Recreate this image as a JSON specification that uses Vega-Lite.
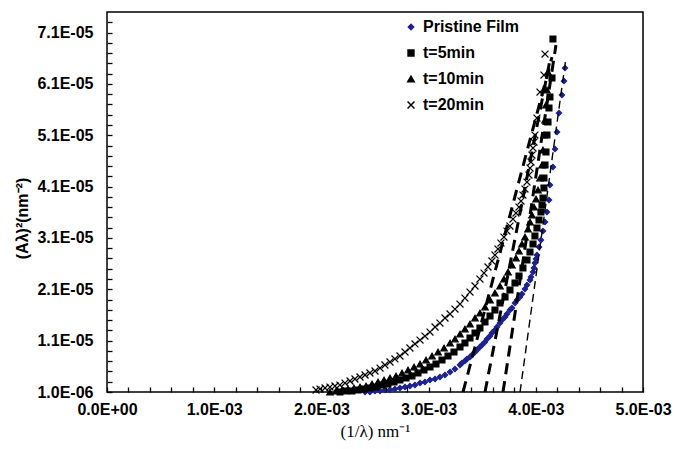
{
  "$schema": "https://vega.github.io/schema/vega-lite/v6.json",
  "width": 536,
  "height": 380,
  "autosize": {"type": "none"},
  "padding": {"left": 107, "top": 12, "right": 32, "bottom": 57},
  "background": "white",
  "config": {
    "view": {"stroke": "black", "strokeWidth": 1.5},
    "font": "Liberation Sans",
    "axis": {"ticks": true, "tickOpacity": 1}
  },
  "datasets": {
    "points": [
      {"series": "Pristine Film", "x": 2.407e-3, "y": 1.00e-6},
      {"series": "Pristine Film", "x": 2.453e-3, "y": 1.00e-6},
      {"series": "Pristine Film", "x": 2.500e-3, "y": 1.19e-6},
      {"series": "Pristine Film", "x": 2.547e-3, "y": 1.19e-6},
      {"series": "Pristine Film", "x": 2.593e-3, "y": 1.39e-6},
      {"series": "Pristine Film", "x": 2.640e-3, "y": 1.39e-6},
      {"series": "Pristine Film", "x": 2.686e-3, "y": 1.58e-6},
      {"series": "Pristine Film", "x": 2.733e-3, "y": 1.78e-6},
      {"series": "Pristine Film", "x": 2.780e-3, "y": 1.97e-6},
      {"series": "Pristine Film", "x": 2.826e-3, "y": 2.17e-6},
      {"series": "Pristine Film", "x": 2.873e-3, "y": 2.36e-6},
      {"series": "Pristine Film", "x": 2.920e-3, "y": 2.75e-6},
      {"series": "Pristine Film", "x": 2.966e-3, "y": 2.95e-6},
      {"series": "Pristine Film", "x": 3.013e-3, "y": 3.34e-6},
      {"series": "Pristine Film", "x": 3.060e-3, "y": 3.53e-6},
      {"series": "Pristine Film", "x": 3.106e-3, "y": 3.92e-6},
      {"series": "Pristine Film", "x": 3.153e-3, "y": 4.31e-6},
      {"series": "Pristine Film", "x": 3.200e-3, "y": 4.89e-6},
      {"series": "Pristine Film", "x": 3.246e-3, "y": 5.48e-6},
      {"series": "Pristine Film", "x": 3.293e-3, "y": 6.26e-6},
      {"series": "Pristine Film", "x": 3.311e-3, "y": 6.65e-6},
      {"series": "Pristine Film", "x": 3.339e-3, "y": 7.04e-6},
      {"series": "Pristine Film", "x": 3.358e-3, "y": 7.43e-6},
      {"series": "Pristine Film", "x": 3.386e-3, "y": 7.81e-6},
      {"series": "Pristine Film", "x": 3.405e-3, "y": 8.20e-6},
      {"series": "Pristine Film", "x": 3.433e-3, "y": 8.79e-6},
      {"series": "Pristine Film", "x": 3.451e-3, "y": 9.18e-6},
      {"series": "Pristine Film", "x": 3.479e-3, "y": 9.76e-6},
      {"series": "Pristine Film", "x": 3.498e-3, "y": 1.015e-5},
      {"series": "Pristine Film", "x": 3.526e-3, "y": 1.074e-5},
      {"series": "Pristine Film", "x": 3.545e-3, "y": 1.132e-5},
      {"series": "Pristine Film", "x": 3.573e-3, "y": 1.190e-5},
      {"series": "Pristine Film", "x": 3.591e-3, "y": 1.249e-5},
      {"series": "Pristine Film", "x": 3.619e-3, "y": 1.307e-5},
      {"series": "Pristine Film", "x": 3.638e-3, "y": 1.366e-5},
      {"series": "Pristine Film", "x": 3.666e-3, "y": 1.443e-5},
      {"series": "Pristine Film", "x": 3.685e-3, "y": 1.502e-5},
      {"series": "Pristine Film", "x": 3.713e-3, "y": 1.560e-5},
      {"series": "Pristine Film", "x": 3.731e-3, "y": 1.619e-5},
      {"series": "Pristine Film", "x": 3.759e-3, "y": 1.697e-5},
      {"series": "Pristine Film", "x": 3.778e-3, "y": 1.735e-5},
      {"series": "Pristine Film", "x": 3.806e-3, "y": 1.833e-5},
      {"series": "Pristine Film", "x": 3.825e-3, "y": 1.891e-5},
      {"series": "Pristine Film", "x": 3.852e-3, "y": 1.950e-5},
      {"series": "Pristine Film", "x": 3.871e-3, "y": 2.008e-5},
      {"series": "Pristine Film", "x": 3.899e-3, "y": 2.105e-5},
      {"series": "Pristine Film", "x": 3.918e-3, "y": 2.183e-5},
      {"series": "Pristine Film", "x": 3.946e-3, "y": 2.281e-5},
      {"series": "Pristine Film", "x": 3.955e-3, "y": 2.339e-5},
      {"series": "Pristine Film", "x": 3.974e-3, "y": 2.436e-5},
      {"series": "Pristine Film", "x": 3.983e-3, "y": 2.514e-5},
      {"series": "Pristine Film", "x": 3.992e-3, "y": 2.612e-5},
      {"series": "Pristine Film", "x": 4.002e-3, "y": 2.690e-5},
      {"series": "Pristine Film", "x": 4.011e-3, "y": 2.767e-5},
      {"series": "Pristine Film", "x": 4.030e-3, "y": 2.923e-5},
      {"series": "Pristine Film", "x": 4.048e-3, "y": 3.059e-5},
      {"series": "Pristine Film", "x": 4.067e-3, "y": 3.235e-5},
      {"series": "Pristine Film", "x": 4.086e-3, "y": 3.410e-5},
      {"series": "Pristine Film", "x": 4.104e-3, "y": 3.605e-5},
      {"series": "Pristine Film", "x": 4.123e-3, "y": 3.838e-5},
      {"series": "Pristine Film", "x": 4.132e-3, "y": 4.130e-5},
      {"series": "Pristine Film", "x": 4.160e-3, "y": 4.481e-5},
      {"series": "Pristine Film", "x": 4.179e-3, "y": 4.831e-5},
      {"series": "Pristine Film", "x": 4.198e-3, "y": 5.162e-5},
      {"series": "Pristine Film", "x": 4.216e-3, "y": 5.532e-5},
      {"series": "Pristine Film", "x": 4.244e-3, "y": 5.883e-5},
      {"series": "Pristine Film", "x": 4.263e-3, "y": 6.155e-5},
      {"series": "Pristine Film", "x": 4.272e-3, "y": 6.408e-5},

      {"series": "t=5min", "x": 2.173e-3, "y": 1.00e-6},
      {"series": "t=5min", "x": 2.229e-3, "y": 1.19e-6},
      {"series": "t=5min", "x": 2.285e-3, "y": 1.19e-6},
      {"series": "t=5min", "x": 2.341e-3, "y": 1.39e-6},
      {"series": "t=5min", "x": 2.397e-3, "y": 1.58e-6},
      {"series": "t=5min", "x": 2.453e-3, "y": 1.78e-6},
      {"series": "t=5min", "x": 2.509e-3, "y": 1.97e-6},
      {"series": "t=5min", "x": 2.565e-3, "y": 2.36e-6},
      {"series": "t=5min", "x": 2.621e-3, "y": 2.56e-6},
      {"series": "t=5min", "x": 2.677e-3, "y": 2.95e-6},
      {"series": "t=5min", "x": 2.733e-3, "y": 3.34e-6},
      {"series": "t=5min", "x": 2.789e-3, "y": 3.73e-6},
      {"series": "t=5min", "x": 2.845e-3, "y": 4.12e-6},
      {"series": "t=5min", "x": 2.901e-3, "y": 4.70e-6},
      {"series": "t=5min", "x": 2.957e-3, "y": 5.28e-6},
      {"series": "t=5min", "x": 3.013e-3, "y": 5.87e-6},
      {"series": "t=5min", "x": 3.069e-3, "y": 6.45e-6},
      {"series": "t=5min", "x": 3.125e-3, "y": 7.23e-6},
      {"series": "t=5min", "x": 3.181e-3, "y": 8.01e-6},
      {"series": "t=5min", "x": 3.237e-3, "y": 8.79e-6},
      {"series": "t=5min", "x": 3.293e-3, "y": 9.76e-6},
      {"series": "t=5min", "x": 3.339e-3, "y": 1.054e-5},
      {"series": "t=5min", "x": 3.386e-3, "y": 1.151e-5},
      {"series": "t=5min", "x": 3.433e-3, "y": 1.249e-5},
      {"series": "t=5min", "x": 3.479e-3, "y": 1.346e-5},
      {"series": "t=5min", "x": 3.526e-3, "y": 1.463e-5},
      {"series": "t=5min", "x": 3.573e-3, "y": 1.580e-5},
      {"series": "t=5min", "x": 3.619e-3, "y": 1.697e-5},
      {"series": "t=5min", "x": 3.666e-3, "y": 1.833e-5},
      {"series": "t=5min", "x": 3.713e-3, "y": 1.950e-5},
      {"series": "t=5min", "x": 3.759e-3, "y": 2.086e-5},
      {"series": "t=5min", "x": 3.806e-3, "y": 2.222e-5},
      {"series": "t=5min", "x": 3.843e-3, "y": 2.359e-5},
      {"series": "t=5min", "x": 3.880e-3, "y": 2.514e-5},
      {"series": "t=5min", "x": 3.918e-3, "y": 2.670e-5},
      {"series": "t=5min", "x": 3.946e-3, "y": 2.826e-5},
      {"series": "t=5min", "x": 3.974e-3, "y": 2.982e-5},
      {"series": "t=5min", "x": 3.992e-3, "y": 3.137e-5},
      {"series": "t=5min", "x": 4.011e-3, "y": 3.293e-5},
      {"series": "t=5min", "x": 4.030e-3, "y": 3.449e-5},
      {"series": "t=5min", "x": 4.048e-3, "y": 3.605e-5},
      {"series": "t=5min", "x": 4.058e-3, "y": 3.741e-5},
      {"series": "t=5min", "x": 4.067e-3, "y": 3.877e-5},
      {"series": "t=5min", "x": 4.076e-3, "y": 4.072e-5},
      {"series": "t=5min", "x": 4.076e-3, "y": 4.267e-5},
      {"series": "t=5min", "x": 4.086e-3, "y": 4.520e-5},
      {"series": "t=5min", "x": 4.095e-3, "y": 4.773e-5},
      {"series": "t=5min", "x": 4.104e-3, "y": 5.104e-5},
      {"series": "t=5min", "x": 4.114e-3, "y": 5.357e-5},
      {"series": "t=5min", "x": 4.123e-3, "y": 5.629e-5},
      {"series": "t=5min", "x": 4.132e-3, "y": 5.844e-5},
      {"series": "t=5min", "x": 4.151e-3, "y": 6.214e-5},
      {"series": "t=5min", "x": 4.160e-3, "y": 6.973e-5},

      {"series": "t=10min", "x": 2.080e-3, "y": 1.00e-6},
      {"series": "t=10min", "x": 2.136e-3, "y": 1.19e-6},
      {"series": "t=10min", "x": 2.192e-3, "y": 1.39e-6},
      {"series": "t=10min", "x": 2.248e-3, "y": 1.58e-6},
      {"series": "t=10min", "x": 2.304e-3, "y": 1.78e-6},
      {"series": "t=10min", "x": 2.360e-3, "y": 1.97e-6},
      {"series": "t=10min", "x": 2.416e-3, "y": 2.17e-6},
      {"series": "t=10min", "x": 2.472e-3, "y": 2.56e-6},
      {"series": "t=10min", "x": 2.528e-3, "y": 2.95e-6},
      {"series": "t=10min", "x": 2.584e-3, "y": 3.34e-6},
      {"series": "t=10min", "x": 2.640e-3, "y": 3.73e-6},
      {"series": "t=10min", "x": 2.696e-3, "y": 4.12e-6},
      {"series": "t=10min", "x": 2.752e-3, "y": 4.70e-6},
      {"series": "t=10min", "x": 2.808e-3, "y": 5.28e-6},
      {"series": "t=10min", "x": 2.864e-3, "y": 5.87e-6},
      {"series": "t=10min", "x": 2.920e-3, "y": 6.45e-6},
      {"series": "t=10min", "x": 2.976e-3, "y": 7.23e-6},
      {"series": "t=10min", "x": 3.032e-3, "y": 8.01e-6},
      {"series": "t=10min", "x": 3.088e-3, "y": 8.79e-6},
      {"series": "t=10min", "x": 3.144e-3, "y": 9.57e-6},
      {"series": "t=10min", "x": 3.200e-3, "y": 1.054e-5},
      {"series": "t=10min", "x": 3.246e-3, "y": 1.132e-5},
      {"series": "t=10min", "x": 3.293e-3, "y": 1.229e-5},
      {"series": "t=10min", "x": 3.339e-3, "y": 1.327e-5},
      {"series": "t=10min", "x": 3.386e-3, "y": 1.424e-5},
      {"series": "t=10min", "x": 3.433e-3, "y": 1.541e-5},
      {"series": "t=10min", "x": 3.479e-3, "y": 1.638e-5},
      {"series": "t=10min", "x": 3.526e-3, "y": 1.755e-5},
      {"series": "t=10min", "x": 3.573e-3, "y": 1.891e-5},
      {"series": "t=10min", "x": 3.619e-3, "y": 2.028e-5},
      {"series": "t=10min", "x": 3.666e-3, "y": 2.164e-5},
      {"series": "t=10min", "x": 3.703e-3, "y": 2.300e-5},
      {"series": "t=10min", "x": 3.741e-3, "y": 2.436e-5},
      {"series": "t=10min", "x": 3.778e-3, "y": 2.573e-5},
      {"series": "t=10min", "x": 3.815e-3, "y": 2.709e-5},
      {"series": "t=10min", "x": 3.843e-3, "y": 2.845e-5},
      {"series": "t=10min", "x": 3.871e-3, "y": 2.982e-5},
      {"series": "t=10min", "x": 3.899e-3, "y": 3.118e-5},
      {"series": "t=10min", "x": 3.927e-3, "y": 3.274e-5},
      {"series": "t=10min", "x": 3.946e-3, "y": 3.410e-5},
      {"series": "t=10min", "x": 3.964e-3, "y": 3.546e-5},
      {"series": "t=10min", "x": 3.983e-3, "y": 3.702e-5},
      {"series": "t=10min", "x": 4.002e-3, "y": 3.858e-5},
      {"series": "t=10min", "x": 4.020e-3, "y": 4.033e-5},
      {"series": "t=10min", "x": 4.039e-3, "y": 4.267e-5},
      {"series": "t=10min", "x": 4.058e-3, "y": 4.520e-5},
      {"series": "t=10min", "x": 4.067e-3, "y": 4.812e-5},
      {"series": "t=10min", "x": 4.076e-3, "y": 5.104e-5},
      {"series": "t=10min", "x": 4.086e-3, "y": 5.396e-5},
      {"series": "t=10min", "x": 4.095e-3, "y": 5.688e-5},
      {"series": "t=10min", "x": 4.104e-3, "y": 5.980e-5},
      {"series": "t=10min", "x": 4.114e-3, "y": 6.330e-5},

      {"series": "t=20min", "x": 1.950e-3, "y": 1.39e-6},
      {"series": "t=20min", "x": 1.987e-3, "y": 1.58e-6},
      {"series": "t=20min", "x": 2.034e-3, "y": 1.78e-6},
      {"series": "t=20min", "x": 2.080e-3, "y": 1.97e-6},
      {"series": "t=20min", "x": 2.127e-3, "y": 2.17e-6},
      {"series": "t=20min", "x": 2.173e-3, "y": 2.36e-6},
      {"series": "t=20min", "x": 2.220e-3, "y": 2.75e-6},
      {"series": "t=20min", "x": 2.267e-3, "y": 3.14e-6},
      {"series": "t=20min", "x": 2.313e-3, "y": 3.53e-6},
      {"series": "t=20min", "x": 2.360e-3, "y": 3.92e-6},
      {"series": "t=20min", "x": 2.407e-3, "y": 4.31e-6},
      {"series": "t=20min", "x": 2.453e-3, "y": 4.70e-6},
      {"series": "t=20min", "x": 2.500e-3, "y": 5.09e-6},
      {"series": "t=20min", "x": 2.547e-3, "y": 5.67e-6},
      {"series": "t=20min", "x": 2.593e-3, "y": 6.26e-6},
      {"series": "t=20min", "x": 2.640e-3, "y": 6.84e-6},
      {"series": "t=20min", "x": 2.686e-3, "y": 7.43e-6},
      {"series": "t=20min", "x": 2.733e-3, "y": 8.01e-6},
      {"series": "t=20min", "x": 2.780e-3, "y": 8.79e-6},
      {"series": "t=20min", "x": 2.826e-3, "y": 9.57e-6},
      {"series": "t=20min", "x": 2.873e-3, "y": 1.035e-5},
      {"series": "t=20min", "x": 2.920e-3, "y": 1.112e-5},
      {"series": "t=20min", "x": 2.966e-3, "y": 1.190e-5},
      {"series": "t=20min", "x": 3.013e-3, "y": 1.268e-5},
      {"series": "t=20min", "x": 3.060e-3, "y": 1.366e-5},
      {"series": "t=20min", "x": 3.106e-3, "y": 1.443e-5},
      {"series": "t=20min", "x": 3.153e-3, "y": 1.541e-5},
      {"series": "t=20min", "x": 3.200e-3, "y": 1.619e-5},
      {"series": "t=20min", "x": 3.246e-3, "y": 1.716e-5},
      {"series": "t=20min", "x": 3.293e-3, "y": 1.813e-5},
      {"series": "t=20min", "x": 3.339e-3, "y": 1.930e-5},
      {"series": "t=20min", "x": 3.386e-3, "y": 2.047e-5},
      {"series": "t=20min", "x": 3.433e-3, "y": 2.164e-5},
      {"series": "t=20min", "x": 3.479e-3, "y": 2.300e-5},
      {"series": "t=20min", "x": 3.517e-3, "y": 2.417e-5},
      {"series": "t=20min", "x": 3.554e-3, "y": 2.534e-5},
      {"series": "t=20min", "x": 3.591e-3, "y": 2.651e-5},
      {"series": "t=20min", "x": 3.619e-3, "y": 2.767e-5},
      {"series": "t=20min", "x": 3.647e-3, "y": 2.884e-5},
      {"series": "t=20min", "x": 3.675e-3, "y": 3.001e-5},
      {"series": "t=20min", "x": 3.703e-3, "y": 3.118e-5},
      {"series": "t=20min", "x": 3.731e-3, "y": 3.235e-5},
      {"series": "t=20min", "x": 3.759e-3, "y": 3.332e-5},
      {"series": "t=20min", "x": 3.787e-3, "y": 3.468e-5},
      {"series": "t=20min", "x": 3.815e-3, "y": 3.585e-5},
      {"series": "t=20min", "x": 3.843e-3, "y": 3.702e-5},
      {"series": "t=20min", "x": 3.862e-3, "y": 3.819e-5},
      {"series": "t=20min", "x": 3.880e-3, "y": 3.936e-5},
      {"series": "t=20min", "x": 3.899e-3, "y": 4.052e-5},
      {"series": "t=20min", "x": 3.918e-3, "y": 4.189e-5},
      {"series": "t=20min", "x": 3.936e-3, "y": 4.325e-5},
      {"series": "t=20min", "x": 3.946e-3, "y": 4.461e-5},
      {"series": "t=20min", "x": 3.955e-3, "y": 4.578e-5},
      {"series": "t=20min", "x": 3.964e-3, "y": 4.714e-5},
      {"series": "t=20min", "x": 3.974e-3, "y": 4.851e-5},
      {"series": "t=20min", "x": 3.983e-3, "y": 4.968e-5},
      {"series": "t=20min", "x": 3.992e-3, "y": 5.104e-5},
      {"series": "t=20min", "x": 4.011e-3, "y": 5.435e-5},
      {"series": "t=20min", "x": 4.039e-3, "y": 5.941e-5},
      {"series": "t=20min", "x": 4.076e-3, "y": 6.272e-5},
      {"series": "t=20min", "x": 4.086e-3, "y": 6.681e-5}
    ],
    "lines": [
      {"fit": "t=20min", "x": 3.321e-3, "y": 1.0e-6},
      {"fit": "t=20min", "x": 4.151e-3, "y": 6.622e-5},
      {"fit": "t=10min", "x": 3.526e-3, "y": 1.0e-6},
      {"fit": "t=10min", "x": 4.132e-3, "y": 6.564e-5},
      {"fit": "t=5min", "x": 3.694e-3, "y": 1.0e-6},
      {"fit": "t=5min", "x": 4.188e-3, "y": 6.856e-5},
      {"fit": "Pristine Film", "x": 3.853e-3, "y": 1.0e-6},
      {"fit": "Pristine Film", "x": 4.281e-3, "y": 6.603e-5}
    ]
  },
  "encoding": {
    "x": {
      "field": "x", "type": "quantitative",
      "scale": {"domain": [0, 0.005], "nice": false, "zero": false},
      "axis": {
        "title": "(1/λ) nm⁻¹",
        "titleFont": "Liberation Serif", "titleFontSize": 17, "titleFontWeight": "normal", "titleColor": "black",
        "titleY": 36, "titleBaseline": "top",
        "values": [0,0.0002,0.0004,0.0006,0.0008,0.001,0.0012,0.0014,0.0016,0.0018,0.002,0.0022,0.0024,0.0026,0.0028,0.003,0.0032,0.0034,0.0036,0.0038,0.004,0.0042,0.0044,0.0046,0.0048,0.005],
        "labelExpr": "round(datum.value*10000) % 10 == 0 ? (datum.value == 0 ? '0.0E+00' : format(datum.value*1000, '.1f') + 'E-03') : ''",
        "labelFont": "Liberation Sans", "labelFontSize": 16, "labelFontWeight": "bold", "labelColor": "black",
        "labelOverlap": false, "labelFlush": false, "labelBound": false,
        "labelPadding": 9,
        "offset": -5,
        "ticks": true,
        "tickSize": 5, "tickColor": "#000000", "tickWidth": 1.3, "tickOpacity": 1,
        "grid": false, "domain": false, "zindex": 1
      }
    },
    "y": {
      "field": "y", "type": "quantitative",
      "scale": {"domain": [1e-6, 7.5e-5], "nice": false, "zero": false},
      "axis": {
        "title": "(Aλ)²(nm⁻²)",
        "titleFont": "Liberation Sans", "titleFontSize": 16, "titleFontWeight": "bold", "titleColor": "black",
        "titleX": -90, "titleY": 206, "titleBaseline": "middle", "titleAngle": 270,
        "values": [1e-6,3e-6,5e-6,7e-6,9e-6,1.1e-5,1.3e-5,1.5e-5,1.7e-5,1.9e-5,2.1e-5,2.3e-5,2.5e-5,2.7e-5,2.9e-5,3.1e-5,3.3e-5,3.5e-5,3.7e-5,3.9e-5,4.1e-5,4.3e-5,4.5e-5,4.7e-5,4.9e-5,5.1e-5,5.3e-5,5.5e-5,5.7e-5,5.9e-5,6.1e-5,6.3e-5,6.5e-5,6.7e-5,6.9e-5,7.1e-5,7.3e-5],
        "labelExpr": "round(datum.value*1e6) % 10 == 1 ? (round(datum.value*1e6) == 1 ? '1.0E-06' : format(datum.value*1e5, '.1f') + 'E-05') : ''",
        "labelFont": "Liberation Sans", "labelFontSize": 16, "labelFontWeight": "bold", "labelColor": "black",
        "labelOverlap": false, "labelFlush": false, "labelBound": false,
        "labelPadding": 14,
        "offset": -5,
        "ticks": true,
        "tickSize": 5, "tickColor": "#000000", "tickWidth": 1.3, "tickOpacity": 1,
        "grid": false, "domain": false, "zindex": 1
      }
    }
  },
  "layer": [
    {
      "data": {"name": "points"},
      "mark": {"type": "point", "filled": true, "opacity": 1, "strokeWidth": 1.2},
      "encoding": {
        "shape": {
          "field": "series", "type": "nominal",
          "scale": {"domain": ["Pristine Film", "t=5min", "t=10min", "t=20min"], "range": ["diamond", "square", "triangle-up", "M-1,-1L1,1M-1,1L1,-1"]},
          "legend": {
            "orient": "none", "legendX": 296, "legendY": 7, "title": null,
            "labelFont": "Liberation Sans", "labelFontSize": 16, "labelFontWeight": "bold", "labelColor": "black",
            "rowPadding": 10, "labelOffset": 4
          }
        },
        "fill": {
          "field": "series", "type": "nominal",
          "scale": {"domain": ["Pristine Film", "t=5min", "t=10min", "t=20min"], "range": ["#1c2290", "black", "black", "black"]}
        },
        "stroke": {
          "field": "series", "type": "nominal",
          "scale": {"domain": ["Pristine Film", "t=5min", "t=10min", "t=20min"], "range": ["#1c2290", "black", "black", "black"]}
        },
        "size": {
          "field": "series", "type": "nominal",
          "scale": {"domain": ["Pristine Film", "t=5min", "t=10min", "t=20min"], "range": [28, 48, 45, 38]}
        }
      }
    },
    {
      "data": {"name": "lines"},
      "transform": [{"filter": "datum.fit != 'Pristine Film'"}],
      "mark": {"type": "line", "color": "black", "strokeWidth": 3, "strokeDash": [11, 7]},
      "encoding": {"detail": {"field": "fit", "type": "nominal"}}
    },
    {
      "data": {"name": "lines"},
      "transform": [{"filter": "datum.fit == 'Pristine Film'"}],
      "mark": {"type": "line", "color": "black", "strokeWidth": 1.4, "strokeDash": [8, 5]},
      "encoding": {"detail": {"field": "fit", "type": "nominal"}}
    }
  ]
}
